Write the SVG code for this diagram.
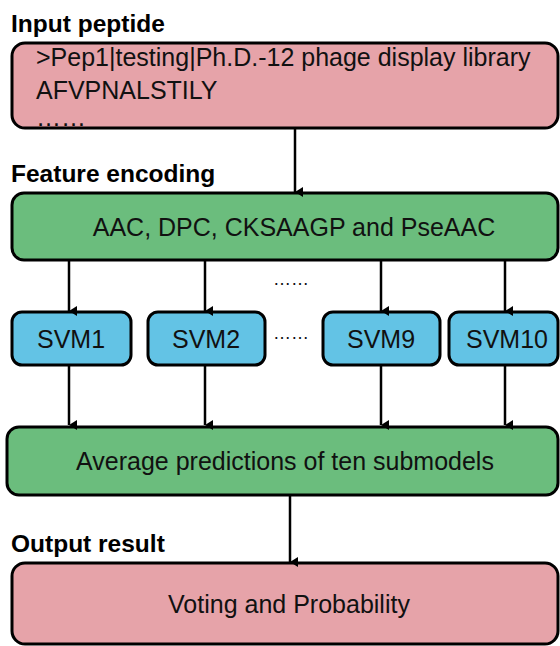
<svg xmlns="http://www.w3.org/2000/svg" width="560" height="646" viewBox="0 0 560 646">
<defs>
<marker id="ah" markerWidth="10" markerHeight="10" refX="5" refY="9" orient="auto" markerUnits="userSpaceOnUse" viewBox="0 0 10 10">
<path d="M0,1 L10,1 L5,9 Z" fill="#000"/>
</marker>
<style>
.box{stroke:#000;stroke-width:3}
.pink{fill:#e6a3a9}
.green{fill:#6bbd7d}
.blue{fill:#63c3e5}
.t{font-family:"Liberation Sans",Arial,sans-serif;font-size:25px;fill:#111}
.h{font-family:"Liberation Sans",Arial,sans-serif;font-size:24.5px;font-weight:bold;fill:#000}
.c{text-anchor:middle}
.ln{stroke:#000;stroke-width:2.5;fill:none}
</style>
</defs>
<rect width="560" height="646" fill="#fff"/>
<text class="h" x="11" y="32">Input peptide</text>
<text class="h" x="11" y="182">Feature encoding</text>
<text class="h" x="11" y="552">Output result</text>

<g id="input">
<rect class="box pink" x="12" y="43" width="546" height="85" rx="13"/>
<text class="t" x="36" y="66">&gt;Pep1|testing|Ph.D.-12 phage display library</text>
<text class="t" x="36" y="99">AFVPNALSTILY</text>
<text class="t" x="36" y="126">……</text>
</g>
<g id="features">
<rect class="box green" x="12" y="193" width="546" height="67" rx="12"/>
<text class="t c" x="294" y="236">AAC, DPC, CKSAAGP and PseAAC</text>
</g>
<g id="svm1">
<rect class="box blue" x="12" y="312" width="119" height="53" rx="10"/>
<text class="t c" x="71" y="348">SVM1</text>
</g>
<g id="svm2">
<rect class="box blue" x="148" y="312" width="117" height="53" rx="10"/>
<text class="t c" x="206" y="348">SVM2</text>
</g>
<g id="svm9">
<rect class="box blue" x="323" y="312" width="117" height="53" rx="10"/>
<text class="t c" x="381" y="348">SVM9</text>
</g>
<g id="svm10">
<rect class="box blue" x="449" y="312" width="109" height="53" rx="10"/>
<text class="t c" x="507" y="348">SVM10</text>
</g>
<g id="average">
<rect class="box green" x="7" y="427" width="551" height="68" rx="12"/>
<text class="t c" x="285" y="470">Average predictions of ten submodels</text>
</g>
<g id="output">
<rect class="box pink" x="12" y="563" width="546" height="81" rx="13"/>
<text class="t c" x="289" y="613">Voting and Probability</text>
</g>
<g id="dots">
<text class="t c" x="291" y="285" style="font-size:18px">……</text>
<text class="t c" x="291" y="339" style="font-size:18px">……</text>
</g>
<g id="connectors">
<line class="ln" x1="295" y1="128" x2="295" y2="192" marker-end="url(#ah)"/>
<line class="ln" x1="69" y1="260" x2="69" y2="311" marker-end="url(#ah)"/>
<line class="ln" x1="205" y1="260" x2="205" y2="311" marker-end="url(#ah)"/>
<line class="ln" x1="381" y1="260" x2="381" y2="311" marker-end="url(#ah)"/>
<line class="ln" x1="505" y1="260" x2="505" y2="311" marker-end="url(#ah)"/>
<line class="ln" x1="69" y1="365" x2="69" y2="425" marker-end="url(#ah)"/>
<line class="ln" x1="205" y1="365" x2="205" y2="425" marker-end="url(#ah)"/>
<line class="ln" x1="381" y1="365" x2="381" y2="425" marker-end="url(#ah)"/>
<line class="ln" x1="505" y1="365" x2="505" y2="425" marker-end="url(#ah)"/>
<line class="ln" x1="290" y1="495" x2="290" y2="562" marker-end="url(#ah)"/>
</g>
</svg>
